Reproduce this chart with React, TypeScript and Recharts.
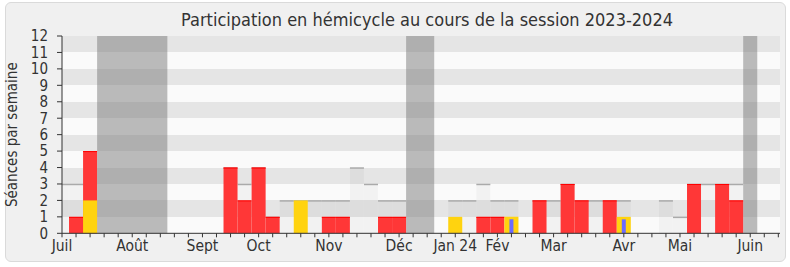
import { ComposedChart, Bar, XAxis, YAxis, CartesianGrid, ReferenceArea } from "recharts";

// one entry per week, from the first week of July 2023
const weeks = [
  0, 1, 2, 3, 4, 5, 6, 7, 8, 9, 10, 11, 12, 13, 14, 15, 16, 17, 18, 19, 20, 21, 22, 23, 24, 25,
  26, 27, 28, 29, 30, 31, 32, 33, 34, 35, 36, 37, 38, 39, 40, 41, 42, 43, 44, 45, 46, 47, 48, 49, 50, 51,
];

// séances of the week (grey backdrop)
const seances = [
  3, 3, 3, 0, 0, 0, 0, 0, 0, 0,
  0, 0, 4, 3, 4, 1, 2, 2, 2, 2,
  2, 4, 3, 2, 2, 0, 0, 0, 2, 2,
  3, 2, 2, 0, 2, 2, 3, 2, 2, 2,
  2, 0, 0, 2, 1, 3, 3, 3, 3, 0,
  0, 0,
];

const present = [
  0, 1, 5, 0, 0, 0, 0, 0, 0, 0,
  0, 0, 4, 2, 4, 1, 0, 0, 0, 1,
  1, 0, 0, 1, 1, 0, 0, 0, 0, 0,
  1, 1, 0, 0, 2, 0, 3, 2, 0, 2,
  0, 0, 0, 0, 0, 3, 0, 3, 2, 0,
  0, 0,
];

const jaune = [
  0, 0, 2, 0, 0, 0, 0, 0, 0, 0,
  0, 0, 0, 0, 0, 0, 0, 2, 0, 0,
  0, 0, 0, 0, 0, 0, 0, 0, 1, 0,
  0, 0, 1, 0, 0, 0, 0, 0, 0, 0,
  1, 0, 0, 0, 0, 0, 0, 0, 0, 0,
  0, 0,
];

const bleu = [
  0, 0, 0, 0, 0, 0, 0, 0, 0, 0,
  0, 0, 0, 0, 0, 0, 0, 0, 0, 0,
  0, 0, 0, 0, 0, 0, 0, 0, 0, 0,
  0, 0, 0.85, 0, 0, 0, 0, 0, 0, 0,
  0.85, 0, 0, 0, 0, 0, 0, 0, 0, 0,
  0, 0,
];

// vacances (start week, end week)
const vacances = [
  [3, 7],
  [25, 26],
  [49, 49],
];

const monthWeeks = [0, 5, 10, 14, 19, 24, 28, 31, 35, 40, 44, 49];
const monthNames = ["Juil", "Août", "Sept", "Oct", "Nov", "Déc", "Jan 24", "Fév", "Mar", "Avr", "Mai", "Juin"];
const yTicks = [0, 1, 2, 3, 4, 5, 6, 7, 8, 9, 10, 11, 12];

const data = weeks.map((w, i) => ({
  week: w,
  seances: seances[i] || null,
  present: present[i] || null,
  jaune: jaune[i] || null,
  bleu: bleu[i] || null,
}));

const FONT = "'DejaVu Sans Condensed', 'DejaVu Sans', sans-serif";
const X_DOMAIN: [number, number] = [0, 51.12];

const GreyShape = (p: any) => {
  const { x, y, width, height } = p;
  if (!height || height <= 0) return <g />;
  return (
    <g>
      <rect x={x} y={y} width={width} height={height} fill="#000" fillOpacity={0.03} />
      <line x1={x} x2={x + width} y1={y + 0.5} y2={y + 0.5} stroke="#aaaaaa" strokeWidth={1.5} />
    </g>
  );
};

const RedShape = (p: any) => {
  const { x, y, width, height } = p;
  if (!height || height <= 0) return <g />;
  return (
    <g>
      <rect x={x} y={y} width={width} height={height} fill="#ff3737" />
      <line x1={x} x2={x + width} y1={y + 0.5} y2={y + 0.5} stroke="#ff0000" strokeWidth={1} />
    </g>
  );
};

const monthLabel = (v: number) => {
  const i = monthWeeks.indexOf(v);
  return i >= 0 ? monthNames[i] : "";
};

export default function App() {
  return (
    <div style={{ position: "absolute", left: 0, top: 0, width: 790, height: 267, background: "#fff" }}>
      <div
        style={{
          position: "absolute",
          left: 5,
          top: 2,
          width: 781,
          height: 260,
          boxSizing: "border-box",
          border: "1px solid #dadada",
          borderRadius: 6,
          background: "#f0f0f0",
        }}
      />
      <svg width={790} height={36} style={{ position: "absolute", left: 0, top: 0 }}>
        <text
          x={181}
          y={26}
          textLength={492}
          lengthAdjust="spacingAndGlyphs"
          fontFamily={FONT}
          fontSize={18.5}
          fill="#333"
        >
          Participation en hémicycle au cours de la session 2023-2024
        </text>
      </svg>
      <div style={{ position: "absolute", left: 0, top: 0 }}>
        <ComposedChart
          width={790}
          height={267}
          data={data}
          margin={{ top: 36, right: 10, bottom: 0, left: 0 }}
        >
          <CartesianGrid
            xAxisId="base"
            vertical={false}
            stroke="transparent"
            fill="#fafafa"
            horizontalFill={["#e5e5e5", "#fafafa"]}
          />
          <XAxis
            xAxisId="base"
            dataKey="week"
            type="number"
            domain={X_DOMAIN}
            allowDataOverflow
            ticks={weeks}
            interval={0}
            tickFormatter={monthLabel}
            height={33.7}
            tickSize={4}
            tickMargin={3}
            stroke="#333"
            tick={{ fill: "#333", fontSize: 15.5, fontFamily: FONT }}
          />
          <XAxis
            xAxisId="top"
            orientation="top"
            dataKey="week"
            type="number"
            domain={X_DOMAIN}
            allowDataOverflow
            ticks={weeks}
            interval={0}
            tickFormatter={() => ""}
            height={0}
            tickSize={1.5}
            axisLine={false}
            tickLine={{ stroke: "#111" }}
          />
          <XAxis xAxisId="r" orientation="top" height={0} dataKey="week" type="number" domain={X_DOMAIN} allowDataOverflow hide />
          <XAxis xAxisId="j" orientation="top" height={0} dataKey="week" type="number" domain={X_DOMAIN} allowDataOverflow hide />
          <XAxis xAxisId="b" orientation="top" height={0} dataKey="week" type="number" domain={X_DOMAIN} allowDataOverflow hide />
          <YAxis
            domain={[0, 12]}
            ticks={yTicks}
            interval={0}
            width={62}
            tickSize={5}
            tickMargin={9}
            stroke="#333"
            tick={{ fill: "#333", fontSize: 15, fontFamily: FONT }}
            label={{
              content: ({ viewBox }: any) => {
                const cx = viewBox.x + 17;
                const cy = viewBox.y + viewBox.height / 2;
                return (
                  <text
                    x={cx}
                    y={cy}
                    transform={`rotate(-90, ${cx}, ${cy})`}
                    textAnchor="middle"
                    fontFamily={FONT}
                    fontSize={15}
                    fill="#333"
                  >
                    Séances par semaine
                  </text>
                );
              },
            }}
          />
          {vacances.map(([a, b], i) => (
            <ReferenceArea
              key={i}
              xAxisId="base"
              x1={a - 0.5}
              x2={b + 0.5}
              y1={0}
              y2={12}
              fill="#7a7a7a"
              fillOpacity={0.5}
              stroke="none"
            />
          ))}
          <Bar xAxisId="base" dataKey="seances" barSize={14} shape={GreyShape} isAnimationActive={false} />
          <Bar xAxisId="r" dataKey="present" barSize={14} shape={RedShape} isAnimationActive={false} />
          <Bar xAxisId="j" dataKey="jaune" barSize={14} fill="#ffd30f" isAnimationActive={false} />
          <Bar xAxisId="b" dataKey="bleu" barSize={4} fill="#6b6bff" isAnimationActive={false} />
        </ComposedChart>
      </div>
    </div>
  );
}
